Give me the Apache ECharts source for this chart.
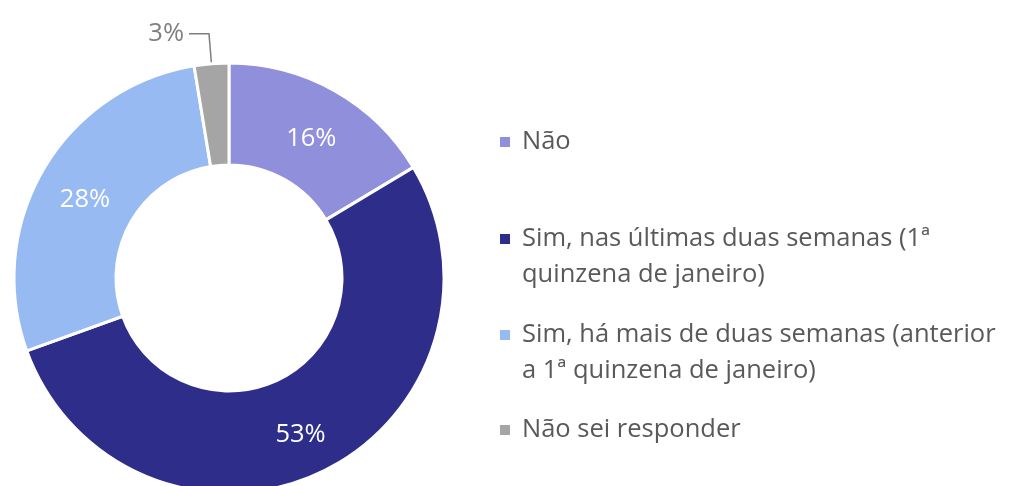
<!DOCTYPE html>
<html>
<head>
<meta charset="utf-8">
<script src="https://cdn.jsdelivr.net/npm/echarts@6/dist/echarts.min.js"></script>
<style>
  html, body { margin: 0; padding: 0; background: #fff; }
  #chart { width: 1012px; height: 486px; }
</style>
</head>
<body>
<div id="chart"></div>
<script>
// answers (legend text keeps the line break used in the original)
const categories = [
  'Não',
  'Sim, nas últimas duas semanas (1ª\nquinzena de janeiro)',
  'Sim, há mais de duas semanas (anterior\na 1ª quinzena de janeiro)',
  'Não sei responder',
];
// share of answers, %
const values = [16.4, 53.1, 27.9, 2.6];
const colors = ['#8F8FDB', '#2E2E8A', '#97BAF3', '#A5A5A5'];
// top of each legend entry
const legendTops = [124, 185, 281, 412];

const FONT = 'Open Sans';
const FS = 25.5;

const myChart = echarts.init(document.getElementById('chart'));

const pieData = categories.map((name, i) => {
  const item = { name, value: values[i], itemStyle: { color: colors[i] } };
  if (i === 3) {
    // small slice: label outside with leader line
    item.label = {
      position: 'outside',
      color: '#7F7F7F',
      formatter: p => Math.round(p.value) + '%',
    };
    item.labelLine = {
      show: true, length: 30, length2: 20,
      lineStyle: { color: '#7F7F7F', width: 1.5 },
    };
  }
  return item;
});

const legends = categories.map((name, i) => ({
  data: [name],
  orient: 'vertical',
  left: 498,
  top: legendTops[i],
  padding: 0,
  itemWidth: 12,
  itemHeight: 12,
  icon: 'rect',
  selectedMode: false,
  textStyle: {
    color: '#595959',
    fontFamily: FONT,
    fontSize: FS,
    lineHeight: 36,
    rich: { t: { fontFamily: FONT, fontSize: FS, lineHeight: 36, color: '#595959', padding: [0, 0, 0, 6] } },
  },
  formatter: (n) => {
    const lines = n.split('\n');
    const body = lines.map(l => '{t|' + l + '}').join('\n');
    return lines.length > 1 ? '\n' + body : body;
  },
}));

const options = {
  animation: false,
  legend: legends,
  series: [{
    type: 'pie',
    center: [229, 278],
    radius: [113, 215],
    startAngle: 90,
    clockwise: true,
    avoidLabelOverlap: false,
    itemStyle: { borderColor: '#fff', borderWidth: 3 },
    label: {
      show: true,
      position: 'inside',
      color: '#fff',
      fontFamily: FONT,
      fontSize: FS,
      rich: { v: { color: '#fff', fontFamily: FONT, fontSize: FS, padding: [12, 0, 0, 0] } },
      formatter: p => '{v|' + Math.round(p.value) + '%}',
    },
    labelLine: { show: false },
    data: pieData,
  }],
};
myChart.setOption(options);
</script>
</body>
</html>
